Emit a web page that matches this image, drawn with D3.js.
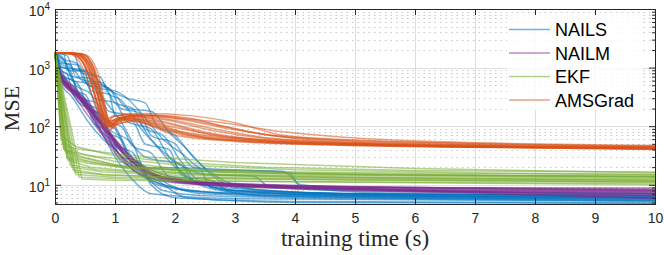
<!DOCTYPE html>
<html>
<head>
<meta charset="utf-8">
<script src="https://cdn.jsdelivr.net/npm/d3@7"></script>
<style>
  body { margin: 0; background: #fff; }
  svg { display: block; }
  .tick-label { font-family: "Liberation Sans", Arial, sans-serif; font-size: 14px; fill: #262626; }
  .axis-title { font-family: "Liberation Serif", "DejaVu Serif", serif; fill: #262626; }
  .legend-text { font-family: "Liberation Sans", Arial, sans-serif; font-size: 18px; fill: #000; }
</style>
</head>
<body>
<svg id="chart" width="664" height="255"></svg>
<script>
// ---- data: each run is a list of [time (s), MSE] ----
const series_names = ["NAILS", "NAILM", "EKF", "AMSGrad"]
const series_colors = ["#0072BD", "#7E2F8E", "#77AC30", "#D95319"]

const x_ticks = [0, 1, 2, 3, 4, 5, 6, 7, 8, 9, 10]
const y_ticks = [10, 100, 1000, 10000]

const nails_runs = [
	[[0,1800],[0.08,1200],[0.2,1000],[0.35,500],[0.6,350],[0.75,150],[1.0,100],[1.2,40],[1.5,15],[1.8,8],[2.5,6.5],[5,5.8],[10,5.3]],
	[[0,1800],[0.05,1000],[0.3,700],[0.5,600],[0.65,300],[1.0,250],[1.2,120],[1.6,90],[1.9,30],[2.3,12],[3,8],[5,6.5],[10,6]],
	[[0,1800],[0.1,800],[0.4,500],[0.55,200],[0.8,150],[0.95,50],[1.3,35],[1.5,14],[2,9],[3,7],[6,6],[10,5.5]],
	[[0,1800],[0.15,1400],[0.3,600],[0.8,500],[1.0,350],[1.2,200],[1.6,180],[1.9,80],[2.2,40],[2.6,15],[3,9],[5,7],[10,6.3]],
	[[0,1800],[0.06,900],[0.25,450],[0.5,300],[0.7,100],[0.9,60],[1.1,25],[1.4,20],[2.4,19],[2.6,9],[4,7],[10,6]],
	[[0,1800],[0.1,1300],[0.25,1100],[0.45,600],[0.7,400],[0.9,180],[1.3,150],[1.6,60],[2.0,25],[2.5,15],[3.3,14],[3.6,9],[6,7.5],[10,7]],
	[[0,1800],[0.2,1600],[0.35,700],[0.6,650],[0.8,300],[1.1,120],[1.3,50],[1.6,10],[2,6],[4,5.2],[10,4.9]],
	[[0,1800],[0.05,700],[0.2,500],[0.4,250],[0.6,180],[0.8,70],[1.0,30],[1.3,12],[1.6,7],[3,5.8],[10,5.2]],
	[[0,1800],[0.12,1000],[0.5,900],[0.7,450],[1.0,400],[1.2,300],[1.5,140],[1.8,60],[2.1,35],[2.5,18],[3.8,17],[4.1,10],[6,8],[10,7.2]],
	[[0,1800],[0.08,1100],[0.3,400],[0.5,350],[0.7,130],[1.0,90],[1.2,35],[1.5,20],[1.9,10],[2.5,7],[5,6],[10,5.8]],
	[[0,1800],[0.3,1750],[0.45,800],[0.75,700],[0.9,350],[1.1,280],[1.4,100],[1.7,45],[2.0,20],[2.4,10],[3,7.5],[6,6.2],[10,5.6]],
	[[0,1800],[0.04,1300],[0.15,600],[0.35,450],[0.5,220],[0.75,160],[0.9,90],[1.2,60],[1.5,30],[2.1,22],[2.3,12],[3,8],[6,6.8],[10,6.4]],
	[[0,1800],[0.1,1500],[0.25,1000],[0.6,800],[0.8,500],[1.2,300],[1.5,250],[1.7,100],[2.0,70],[2.3,30],[2.8,12],[3.5,8],[7,6.3],[10,6]],
	[[0,1800],[0.07,600],[0.3,300],[0.55,120],[0.8,60],[1.0,40],[1.3,18],[1.8,10],[2.5,7.5],[6,6.5],[10,6.2]],
	[[0,1800],[0.15,1700],[0.2,900],[0.5,850],[0.6,400],[0.9,350],[1.0,150],[1.3,120],[1.5,50],[1.9,40],[2.1,15],[2.8,9],[5,7],[10,6.6]],
	[[0,1800],[0.05,1500],[0.1,700],[0.3,600],[0.45,250],[0.7,200],[0.85,80],[1.1,60],[1.3,20],[1.7,12],[2.2,6],[4,5],[10,4.8]],
	[[0,1800],[0.1,1200],[0.4,1100],[0.55,500],[0.9,450],[1.1,200],[1.4,170],[1.6,70],[2,50],[2.3,20],[3.9,16],[4.1,9],[6,7],[10,6.5]],
	[[0,1800],[0.03,900],[0.2,800],[0.3,350],[0.5,280],[0.65,110],[0.9,80],[1.1,30],[1.4,25],[1.6,11],[2.2,8],[4,6.5],[10,5.9]],
	[[0,1800],[0.12,1400],[0.35,1200],[0.5,600],[0.8,550],[1.0,250],[1.3,200],[1.5,90],[1.8,70],[2.1,25],[2.5,10],[3.5,6.5],[10,5.4]],
	[[0,1800],[0.06,1100],[0.25,900],[0.4,300],[0.7,250],[0.85,120],[1.1,100],[1.3,45],[1.6,35],[1.9,14],[2.6,12],[2.9,8],[6,6.9],[10,6.6]]
]

const nailm_runs = [
	[[0,1800],[0.05,900],[0.2,500],[0.4,300],[0.6,150],[0.8,70],[1.0,35],[1.3,18],[1.7,12],[2.5,10],[4,9],[7,8],[10,7.5]],
	[[0,1800],[0.08,700],[0.25,420],[0.5,220],[0.7,110],[0.9,55],[1.2,25],[1.6,14],[2.2,11],[4,9.5],[7,8.5],[10,8]],
	[[0,1800],[0.05,1000],[0.3,480],[0.55,260],[0.8,120],[1.0,60],[1.3,28],[1.8,15],[2.5,11],[4,9],[7,7.5],[10,6.5]],
	[[0,1800],[0.1,600],[0.3,350],[0.5,180],[0.75,80],[1.0,40],[1.4,18],[2,12],[3,10],[5,8.5],[10,7]],
	[[0,1800],[0.06,800],[0.35,400],[0.6,200],[0.85,90],[1.1,40],[1.5,17],[2,12],[3,10],[6,8.5],[10,7.8]],
	[[0,1800],[0.04,1100],[0.2,550],[0.45,280],[0.65,160],[0.9,75],[1.2,30],[1.6,15],[2.4,11],[4,9.5],[7,8.8],[10,8.5]],
	[[0,1800],[0.12,550],[0.4,320],[0.7,130],[0.95,50],[1.2,22],[1.6,13],[2.5,10],[5,8],[10,6]],
	[[0,1800],[0.07,750],[0.3,400],[0.6,170],[0.9,65],[1.2,30],[1.5,18],[2.1,12],[3.5,10],[6,9],[10,8.2]],
	[[0,1800],[0.05,950],[0.25,450],[0.5,240],[0.8,100],[1.1,45],[1.4,22],[1.9,13],[3,10],[6,8],[10,5.8]],
	[[0,1800],[0.09,650],[0.35,380],[0.65,190],[0.9,80],[1.2,35],[1.6,16],[2.3,11],[4,9],[8,7.5],[10,7.2]],
	[[0,1800],[0.06,850],[0.3,430],[0.55,230],[0.8,105],[1.05,48],[1.35,22],[1.8,13],[2.7,10.5],[5,9],[10,8.8]],
	[[0,1800],[0.1,620],[0.4,330],[0.6,185],[0.85,85],[1.1,38],[1.4,19],[2,12.5],[3,10.5],[6,9],[10,8]],
	[[0,1800],[0.04,1050],[0.25,520],[0.5,260],[0.75,130],[1.0,55],[1.3,24],[1.8,13],[2.5,10],[5,8.2],[10,6.8]],
	[[0,1800],[0.08,720],[0.3,390],[0.55,210],[0.8,95],[1.05,42],[1.4,20],[1.9,12],[3,9.5],[7,8],[10,7.5]]
]

const ekf_runs = [
	[[0,1800],[0.1,60],[0.3,42],[0.8,36],[1.5,30],[3,24],[6,19],[10,16]],
	[[0,1800],[0.15,40],[0.5,32],[1,28],[2,22],[4,18],[7,16],[10,15]],
	[[0,1800],[0.2,30],[0.6,24],[1.2,20],[2.5,17],[5,15],[10,13.5]],
	[[0,1800],[0.25,22],[0.7,18],[1.5,16],[3,14.5],[6,13],[10,12]],
	[[0,1800],[0.45,12.5],[1,12],[3,11.5],[6,11],[10,10.5]],
	[[0,1800],[0.3,18],[0.8,15],[2,13.5],[5,12.5],[10,11.5]],
	[[0,1800],[0.12,50],[0.4,35],[1,25],[2,19],[4,16],[7,14.5],[10,14]],
	[[0,1800],[0.18,35],[0.5,26],[1.2,19],[2.5,15],[5,13],[10,12]],
	[[0,1800],[0.22,26],[0.6,20],[1.3,17],[3,15],[6,14],[10,13]],
	[[0,1800],[0.35,15],[1,13.5],[3,12.5],[6,12],[10,11]],
	[[0,1800],[0.14,42],[0.45,30],[1,22],[2,18],[4,16.5],[7,15.5],[10,15]],
	[[0,1800],[0.4,13.5],[1.2,12.5],[3,11.5],[6,10.8],[10,10]],
	[[0,1800],[0.28,20],[0.8,16.5],[2,14.5],[4,13.5],[10,12.5]],
	[[0,1800],[0.1,70],[0.35,45],[0.9,33],[1.8,25],[3.5,20],[6,17.5],[10,16.5]],
	[[0,1800],[0.16,38],[0.5,28],[1.1,21],[2.2,17],[4.5,15],[10,13.8]],
	[[0,1800],[0.33,16.5],[0.9,14.5],[2.5,13],[5,12],[10,11.2]],
	[[0,1800],[0.2,28],[0.55,23],[1.2,19.5],[3,16],[6,14.5],[10,14]]
]

const amsgrad_runs = [
	[[0,1800],[0.25,1780],[0.4,1500],[0.55,800],[0.7,250],[0.82,100],[0.9,85],[1.0,110],[1.2,140],[1.5,120],[2,85],[3,62],[4,52],[6,46],[10,41]],
	[[0,1800],[0.3,1760],[0.5,1400],[0.65,700],[0.78,200],[0.88,95],[1.0,120],[1.3,150],[1.8,120],[2.5,80],[3.5,58],[5,50],[7,45],[10,42]],
	[[0,1750],[0.35,1700],[0.55,1300],[0.7,600],[0.85,150],[0.95,110],[1.1,145],[1.6,155],[2.2,140],[2.8,100],[3.5,72],[5,55],[7,48],[10,44]],
	[[0,1800],[0.2,1750],[0.35,1500],[0.5,800],[0.65,260],[0.78,120],[0.9,100],[1.1,130],[1.4,120],[2,70],[3,55],[4.5,48],[7,44],[10,40]],
	[[0,1800],[0.4,1750],[0.6,1200],[0.75,400],[0.88,130],[0.95,90],[1.05,115],[1.3,135],[1.7,110],[2.2,75],[3,60],[5,50],[10,43]],
	[[0,1780],[0.3,1700],[0.5,1100],[0.62,500],[0.75,180],[0.85,110],[1.0,150],[1.5,165],[2.3,150],[3,115],[3.8,70],[5,58],[7,50],[10,45]],
	[[0,1800],[0.45,1700],[0.65,1000],[0.78,350],[0.88,140],[0.95,100],[1.05,120],[1.4,130],[2,95],[2.8,68],[4,55],[6,47],[10,42]],
	[[0,1800],[0.25,1750],[0.45,1300],[0.6,550],[0.72,200],[0.82,130],[0.92,140],[1.2,160],[1.8,150],[2.6,110],[3.4,75],[4.5,60],[6.5,52],[10,46]],
	[[0,1800],[0.35,1750],[0.55,1200],[0.68,450],[0.8,150],[0.9,100],[1.0,105],[1.3,125],[1.6,105],[2.2,68],[3.2,55],[5,47],[10,41]],
	[[0,1800],[0.5,1650],[0.7,900],[0.82,280],[0.9,120],[1.0,130],[1.3,145],[1.9,125],[2.6,85],[3.5,62],[5,52],[8,45],[10,43]],
	[[0,1800],[0.3,1780],[0.48,1350],[0.62,650],[0.76,220],[0.86,115],[0.96,150],[1.3,155],[2,140],[2.8,115],[3.8,80],[4.8,65],[6.5,54],[10,47]],
	[[0,1800],[0.4,1700],[0.58,1150],[0.72,420],[0.84,140],[0.94,95],[1.05,110],[1.3,120],[1.7,95],[2.4,66],[3.5,54],[6,46],[10,41]],
	[[0,1800],[0.3,1770],[0.5,1300],[0.64,600],[0.78,190],[0.88,105],[1.0,125],[1.3,140],[1.8,115],[2.5,75],[3.5,56],[5,48],[7,44],[10,42]],
	[[0,1800],[0.35,1720],[0.52,1250],[0.66,520],[0.8,170],[0.9,110],[1.02,135],[1.4,150],[2.0,125],[2.7,88],[3.6,62],[5,51],[7,45],[10,43]],
	[[0,1800],[0.22,1760],[0.42,1400],[0.57,700],[0.72,230],[0.84,115],[0.95,125],[1.2,135],[1.6,110],[2.2,72],[3,57],[4.5,49],[7,44],[10,42]],
	[[0,1800],[0.45,1720],[0.62,1100],[0.76,380],[0.86,135],[0.95,105],[1.1,140],[1.5,150],[2.1,130],[2.9,90],[3.8,65],[5.5,51],[10,44]]
]

const all_runs = [nails_runs, nailm_runs, ekf_runs, amsgrad_runs]

// ---- layout ----
const svg = d3.select("#chart")
const plot_left = 55, plot_right = 655, plot_top = 9, plot_bottom = 204

const x = d3.scaleLinear().domain([0, 10]).range([plot_left, plot_right])
const y = d3.scaleLog().domain([4.7, 10000]).range([plot_bottom, plot_top])

// minor y values (2..9 per decade)
const y_minor = []
for (let p = 0; p <= 3; p++) {
	for (let m = 2; m <= 9; m++) {
		const v = m * Math.pow(10, p)
		if (v >= 4.7 && v <= 10000) y_minor.push(v)
	}
}

// grid
const grid = svg.append("g").classed("grid", true)
grid.selectAll("line.minor").data(y_minor).enter().append("line")
	.classed("minor", true)
	.attr("x1", plot_left).attr("x2", plot_right)
	.attr("y1", d => Math.round(y(d)) + 0.5).attr("y2", d => Math.round(y(d)) + 0.5)
	.attr("stroke", "#c8c8c8").attr("stroke-width", 1)
	.attr("stroke-dasharray", "1.5,4")
grid.selectAll("line.xmajor").data(x_ticks.slice(1, -1)).enter().append("line")
	.classed("xmajor", true)
	.attr("x1", d => Math.round(x(d)) + 0.5).attr("x2", d => Math.round(x(d)) + 0.5)
	.attr("y1", plot_top).attr("y2", plot_bottom)
	.attr("stroke", "#dedede").attr("stroke-width", 1)
grid.selectAll("line.ymajor").data(y_ticks.slice(0, -1)).enter().append("line")
	.classed("ymajor", true)
	.attr("x1", plot_left).attr("x2", plot_right)
	.attr("y1", d => Math.round(y(d)) + 0.5).attr("y2", d => Math.round(y(d)) + 0.5)
	.attr("stroke", "#dedede").attr("stroke-width", 1)

// runs (EKF drawn with straight segments: sharp knee)
const smooth_line = d3.line()
	.x(d => x(d[0]))
	.y(d => y(d[1]))
	.curve(d3.curveMonotoneX)
const straight_line = d3.line()
	.x(d => x(d[0]))
	.y(d => y(d[1]))

const plot = svg.append("g").classed("runs", true)
all_runs.forEach((runs, i) => {
	plot.append("g")
		.selectAll("path").data(runs).enter().append("path")
		.attr("d", i == 2 ? straight_line : smooth_line)
		.attr("fill", "none")
		.attr("stroke", series_colors[i])
		.attr("stroke-width", 1.5)
		.attr("stroke-opacity", 0.55)
})

// legend
const legend = svg.append("g").classed("legend", true)
legend.append("rect")
	.attr("x", 507).attr("y", 13).attr("width", 136).attr("height", 97)
	.attr("fill", "#fff").attr("fill-opacity", 0.8)
series_names.forEach((name, i) => {
	const ly = 29.5 + i * 23.5
	legend.append("line")
		.attr("x1", 509).attr("x2", 550)
		.attr("y1", ly).attr("y2", ly)
		.attr("stroke", series_colors[i]).attr("stroke-width", 1.5)
		.attr("stroke-opacity", 0.55)
	legend.append("text")
		.classed("legend-text", true)
		.text(name)
		.attr("x", 555)
		.attr("y", ly + 6.5)
})

// axes (ticks pointing inward, MATLAB-like box)
const axes = svg.append("g").classed("axes", true)
axes.append("g")
	.attr("transform", `translate(0,${plot_bottom})`)
	.call(d3.axisBottom(x).tickValues(x_ticks).tickSizeInner(-6).tickSizeOuter(0).tickPadding(9))
	.call(g => g.selectAll("text").attr("class", "tick-label"))
	.call(g => g.attr("font-size", null).attr("font-family", null))
axes.append("g")
	.attr("transform", `translate(0,${plot_top})`)
	.call(d3.axisTop(x).tickValues(x_ticks).tickSizeInner(-6).tickSizeOuter(0).tickFormat(""))

axes.append("g")
	.attr("transform", `translate(${plot_left},0)`)
	.call(d3.axisLeft(y).tickValues(y_ticks).tickSizeInner(-6).tickSizeOuter(0).tickFormat(""))
axes.append("g")
	.attr("transform", `translate(${plot_right},0)`)
	.call(d3.axisRight(y).tickValues(y_ticks).tickSizeInner(-6).tickSizeOuter(0).tickFormat(""))
axes.append("g")
	.attr("transform", `translate(${plot_left},0)`)
	.call(d3.axisLeft(y).tickValues(y_minor).tickSizeInner(-3).tickSizeOuter(0).tickFormat(""))
axes.append("g")
	.attr("transform", `translate(${plot_right},0)`)
	.call(d3.axisRight(y).tickValues(y_minor).tickSizeInner(-3).tickSizeOuter(0).tickFormat(""))
axes.selectAll(".domain").remove()
axes.selectAll(".tick line").attr("stroke", "#262626")

// y labels as 10^n
y_ticks.forEach(v => {
	const t = svg.append("text")
		.classed("tick-label", true)
		.attr("x", plot_left - 5)
		.attr("y", y(v) + 7)
		.attr("text-anchor", "end")
	t.append("tspan").text("10")
	t.append("tspan").text(Math.round(Math.log10(v))).attr("font-size", "10px").attr("dy", -6)
})

// box
svg.append("rect")
	.attr("x", plot_left + 0.5).attr("y", plot_top + 0.5)
	.attr("width", plot_right - plot_left).attr("height", plot_bottom - plot_top)
	.attr("fill", "none").attr("stroke", "#262626").attr("stroke-width", 1)

// titles
svg.append("text")
	.classed("axis-title", true)
	.text("training time (s)")
	.attr("x", (plot_left + plot_right) / 2)
	.attr("y", 246)
	.attr("text-anchor", "middle")
	.attr("font-size", "23px")
svg.append("text")
	.classed("axis-title", true)
	.text("MSE")
	.attr("transform", `translate(19,${(plot_top + plot_bottom) / 2 + 2}) rotate(-90)`)
	.attr("text-anchor", "middle")
	.attr("font-size", "22px")
</script>
</body>
</html>
